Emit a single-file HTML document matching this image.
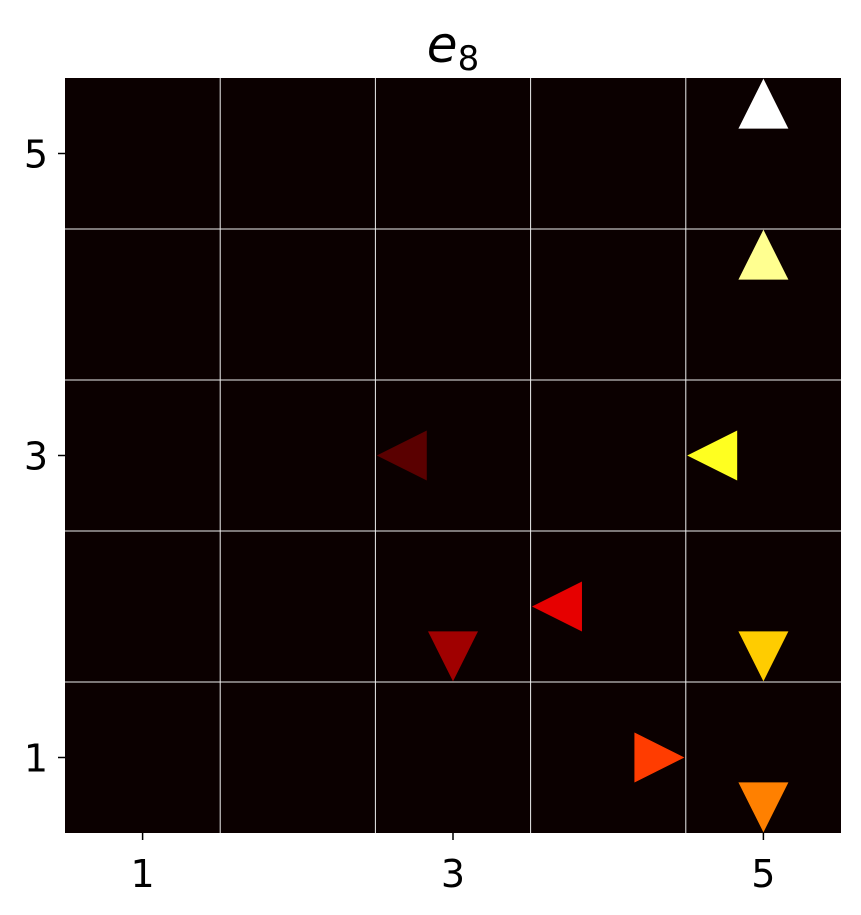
<!DOCTYPE html>
<html><head><meta charset="utf-8"><style>
html,body{margin:0;padding:0;background:#fff;}
svg{display:block;font-family:"DejaVu Sans","Liberation Sans",sans-serif;}
</style></head><body>
<svg id="chart" width="861" height="915">
<text x="453" y="62" text-anchor="middle" font-size="50" font-style="italic" fill="#000">e<tspan font-size="34" font-style="normal" dy="8">8</tspan></text>
<rect x="65" y="78" width="776" height="755" fill="#0b0000"/>
<g id="grid"></g>
<g id="marks"></g>
<g id="axes"></g>
</svg>
<script>
const xs=[5,5,2.67,4.67,3.67,3,5,4.33,5];
const ys=[5.33,4.33,3,3,2,1.67,1.67,1,0.67];
const dirs=["up","up","left","left","left","down","down","right","down"];
const colors=["#ffffff","#ffff90","#5a0000","#ffff20","#e60000","#a00000","#ffcc00","#ff3c00","#ff8000"];
const xTicks=[1,3,5];
const yTicks=[1,3,5];
const gridVals=[1.5,2.5,3.5,4.5];
const L=65,R=841,T=78,B=833;
const sx=v=>L+(v-0.5)/5*(R-L);
const sy=v=>B-(v-0.5)/5*(B-T);
const NS="http://www.w3.org/2000/svg";
const grid=document.getElementById('grid'),marks=document.getElementById('marks'),axes=document.getElementById('axes');
gridVals.forEach(g=>{
 const a=document.createElementNS(NS,'line');
 a.setAttribute('x1',sx(g));a.setAttribute('x2',sx(g));a.setAttribute('y1',T);a.setAttribute('y2',B);
 a.setAttribute('stroke','#eee');a.setAttribute('stroke-width','1');
 
 
 grid.appendChild(a);
 const b=document.createElementNS(NS,'line');
 b.setAttribute('y1',sy(g));b.setAttribute('y2',sy(g));b.setAttribute('x1',L);b.setAttribute('x2',R);
 b.setAttribute('stroke','#eee');b.setAttribute('stroke-width','1');
 
 
 grid.appendChild(b);
});
const h=25;
xs.forEach((x,i)=>{
 const cx=sx(x),cy=sy(ys[i]);let p;
 if(dirs[i]==="up")p=[[cx,cy-h],[cx-h,cy+h],[cx+h,cy+h]];
 else if(dirs[i]==="down")p=[[cx,cy+h],[cx-h,cy-h],[cx+h,cy-h]];
 else if(dirs[i]==="left")p=[[cx-h,cy],[cx+h,cy-h],[cx+h,cy+h]];
 else p=[[cx+h,cy],[cx-h,cy-h],[cx-h,cy+h]];
 const t=document.createElementNS(NS,'polygon');
 t.setAttribute('points',p.map(q=>q.join(',')).join(' '));
 t.setAttribute('fill',colors[i]);
 
 
 marks.appendChild(t);
});
xTicks.forEach(v=>{
 const l=document.createElementNS(NS,'line');
 l.setAttribute('x1',sx(v));l.setAttribute('x2',sx(v));l.setAttribute('y1',B);l.setAttribute('y2',B+7);
 l.setAttribute('stroke','#000');l.setAttribute('stroke-width','1.5');
 
 
 axes.appendChild(l);
 const t=document.createElementNS(NS,'text');
 t.setAttribute('x',sx(v));t.setAttribute('y',B+54);t.setAttribute('text-anchor','middle');t.setAttribute('font-size','38');
 t.textContent=v;
 
 
 axes.appendChild(t);
});
yTicks.forEach(v=>{
 const l=document.createElementNS(NS,'line');
 l.setAttribute('x1',L-7);l.setAttribute('x2',L);l.setAttribute('y1',sy(v));l.setAttribute('y2',sy(v));
 l.setAttribute('stroke','#000');l.setAttribute('stroke-width','1.5');
 
 
 axes.appendChild(l);
 const t=document.createElementNS(NS,'text');
 t.setAttribute('x',L-17);t.setAttribute('y',sy(v)+14);t.setAttribute('text-anchor','end');t.setAttribute('font-size','38');
 t.textContent=v;
 
 
 axes.appendChild(t);
});
</script>
</body></html>
